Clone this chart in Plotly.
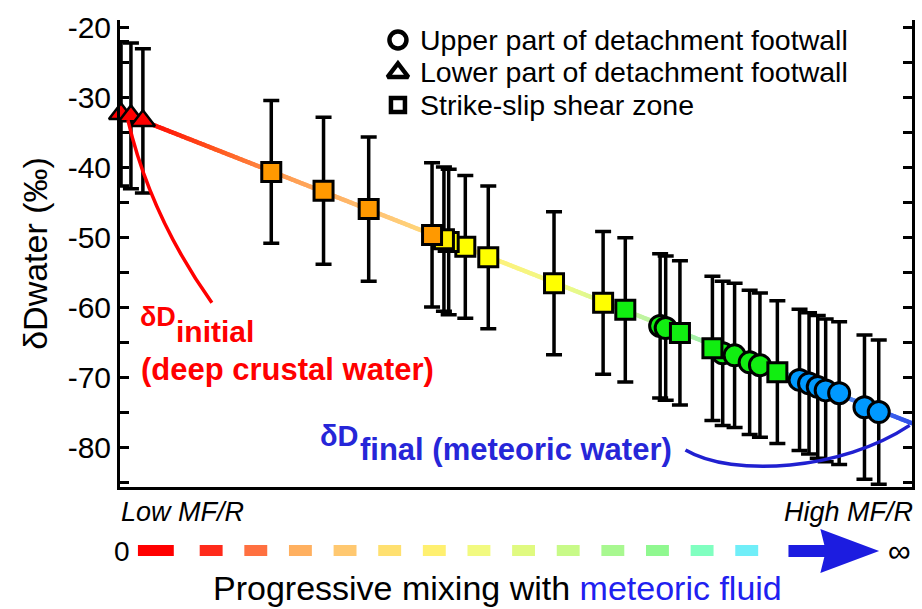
import plotly.graph_objects as go
import numpy as np

FONT = "Liberation Sans, Arial, sans-serif"

# ---- data (x = relative mixing position 0..100, y = deltaD water permil) ----
tri_x = [0.13, 1.38, 2.89]
tri_y = [-32.4, -32.7, -33.4]
tri_err = [10.3, 10.4, 10.3]

sq_x = [19.1, 25.7, 31.4, 39.4, 40.9, 41.5, 43.6, 46.5, 54.8, 61.0, 63.8, 70.7, 74.8, 83.0]
sq_y = [-40.7, -43.4, -46.0, -49.7, -50.3, -50.7, -51.4, -52.9, -56.6, -59.4, -60.4, -63.7, -65.9, -69.3]
sq_err = [10.2, 10.5, 10.3, 10.3, 10.3, 10.4, 10.2, 10.2, 10.2, 10.2, 10.3, 10.3, 10.3, 10.2]
sq_col = ["#ff9900", "#ff9900", "#ff9900", "#ff9900", "#ffee00", "#ffff00", "#ffff00",
          "#ffff00", "#ffff00", "#ffff00", "#11ee11", "#11ee11", "#11ee11", "#11ee11"]

ci_x = [68.2, 68.9, 76.1, 77.6, 79.5, 80.8, 85.8, 87.0, 88.1, 89.1, 90.8, 94.0, 95.8]
ci_y = [-62.7, -63.0, -66.6, -66.9, -67.9, -68.3, -70.4, -70.9, -71.4, -71.9, -72.3, -74.3, -75.0]
ci_err = [10.3, 10.3, 10.3, 10.3, 10.3, 10.3, 10.1, 10.1, 10.2, 10.2, 10.2, 10.3, 10.3]
ci_col = ["#11ee11"] * 6 + ["#0099ff"] * 7

# mixing line end members and colour stops along it
mix_x = [2.89, 100.0]
mix_y = [-33.4, -76.6]
mix_stops = [[0.0, "#ff0000"], [0.1, "#ff5a20"], [0.18, "#ff9a50"], [0.32, "#ffc878"],
             [0.45, "#fff07a"], [0.55, "#eefa88"], [0.65, "#c0f4a0"], [0.75, "#98eea8"],
             [0.82, "#80e8c8"], [0.88, "#60a8f0"], [0.95, "#4a70f0"], [1.0, "#3050e8"]]

# mixing colour key below the chart
key_colors = ["#ff0000", "#ff2a1a", "#ff7040", "#ffb060", "#ffc870", "#ffe070", "#fff070",
              "#f2fa80", "#e0fa80", "#c8fa88", "#a8f890", "#90f890", "#80ffc0", "#70eef8"]

legend_names = ["Upper part of detachment footwall", "Lower part of detachment footwall",
                "Strike-slip shear zone"]
legend_symbols = ["circle", "triangle-up", "square"]
legend_sizes = [17, 18, 14]

y_ticks = [-80, -70, -60, -50, -40, -30, -20]
y_ticktext = ["-80", "-70", "-60", "-50", "-40", "-30", "-20"]
Y_RANGE = [-85.7, -19]

fig = go.Figure()

# gradient mixing line
t = np.linspace(0, 1, 700)
lx = mix_x[0] + t * (mix_x[1] - mix_x[0])
ly = mix_y[0] + t * (mix_y[1] - mix_y[0])
fig.add_trace(go.Scatter(x=lx, y=ly, mode="markers", showlegend=False, hoverinfo="skip",
                         marker=dict(size=4.5, color=t, colorscale=mix_stops, cmin=0, cmax=1,
                                     line=dict(width=0))))

eb = dict(type="data", color="black", thickness=3.5, width=8)

fig.add_trace(go.Scatter(x=ci_x, y=ci_y, mode="markers", showlegend=False, cliponaxis=False,
                         error_y=dict(eb, array=ci_err),
                         marker=dict(symbol="circle", size=21, color=ci_col,
                                     line=dict(color="black", width=3))))
fig.add_trace(go.Scatter(x=sq_x[::-1], y=sq_y[::-1], mode="markers", showlegend=False,
                         cliponaxis=False, error_y=dict(eb, array=sq_err[::-1]),
                         marker=dict(symbol="square", size=19, color=sq_col[::-1],
                                     line=dict(color="black", width=3))))
fig.add_trace(go.Scatter(x=tri_x, y=tri_y, mode="markers", showlegend=False, cliponaxis=False,
                         error_y=dict(eb, array=tri_err),
                         marker=dict(symbol="triangle-up", size=21, color="#ff0000",
                                     line=dict(color="black", width=2.5))))

# pixel layout helpers
PL, PR, PT, PB = 120, 915, 20, 487
def px(x):
    return (x - PL) / (PR - PL)
def py(y):
    return (PB - y) / (PB - PT)

# manual legend (symbols on an overlay axis spanning the plot area)
leg_rows = [40, 72.5, 105]
fig.add_trace(go.Scatter(x=[px(399)] * 3, y=[py(r) for r in leg_rows], xaxis="x2", yaxis="y2",
                         mode="markers", showlegend=False, hoverinfo="skip", cliponaxis=False,
                         marker=dict(symbol=legend_symbols, size=legend_sizes, color="white",
                                     opacity=1, line=dict(color="#000000", width=4.5))))

# pointer curves
fig.add_shape(type="path", xref="x", yref="y",
              path="M 1.0,-33.3 Q 3.8,-46.9 11.6,-59.4",
              line=dict(color="#ff0000", width=3.5))
fig.add_shape(type="path", xref="x", yref="y",
              path="M 71.4,-80.4 C 77.4,-84.4 91.2,-83.3 99.7,-76.9",
              line=dict(color="#2020d0", width=3.5))

for i, c in enumerate(key_colors):
    if i == 0:
        x0, x1 = 138, 174
    else:
        x0 = 200 + (i - 1) * 44.8
        x1 = x0 + 23
    fig.add_shape(type="rect", xref="paper", yref="paper", x0=px(x0), x1=px(x1),
                  y0=py(556), y1=py(545), fillcolor=c, line=dict(width=0))
pts = [(791, 545), (827, 545), (823, 529), (882, 551), (823, 573), (827, 557), (791, 557)]
path = "M " + " L ".join(f"{px(a):.5f},{py(b):.5f}" for a, b in pts) + " Z"
fig.add_shape(type="path", xref="paper", yref="paper", path=path,
              fillcolor="#1c1ce0", line=dict(width=0))

ann = []
def A(text, x, y, size, color="black", xanchor="left", yanchor="middle"):
    ann.append(dict(text=text, x=px(x), y=py(y), xref="paper", yref="paper",
                    showarrow=False, xanchor=xanchor, yanchor=yanchor,
                    font=dict(family=FONT, size=size, color=color)))

for name, r in zip(legend_names, leg_rows):
    A(name, 419, r, 28.5)

A("<i>Low MF/R</i>", 119, 512, 27)
A("<i>High MF/R</i>", 918, 512, 27, xanchor="right")
A("0", 122, 551, 28, xanchor="center")
A("∞", 902, 551, 32, xanchor="center")
A("Progressive mixing with <span style='color:#2020f0'>meteoric fluid</span>", 499, 588, 34,
  xanchor="center")
A("<b>δD</b>", 138, 317, 27, color="#ff0000")
A("<b>initial</b>", 174, 332, 30, color="#ff0000")
A("<b>(deep crustal water)</b>", 139, 369, 31, color="#ff0000")
A("<b>δD</b>", 319, 436, 29, color="#2626d8")
A("<b>final (meteoric water)</b>", 359, 449, 31, color="#2626d8")

fig.update_layout(
    width=922, height=609,
    margin=dict(l=PL, r=922 - PR, t=PT, b=609 - PB),
    paper_bgcolor="white", plot_bgcolor="white",
    font=dict(family=FONT, color="black"),
    annotations=ann,
    showlegend=False,
    xaxis=dict(range=[0, 100], showline=True, linewidth=3, linecolor="black",
               showgrid=False, zeroline=False, showticklabels=False, ticks="",
               mirror=False),
    yaxis=dict(range=Y_RANGE, showline=True, linewidth=3, linecolor="black",
               showgrid=False, zeroline=False, mirror="ticks",
               tickvals=y_ticks, ticktext=y_ticktext,
               ticks="inside", ticklen=9, tickwidth=3, tickcolor="black",
               minor=dict(ticks="inside", ticklen=9, tickwidth=3, tickcolor="black",
                          tick0=-85, dtick=5),
               tickfont=dict(size=30, family=FONT),
               title=dict(text="δDwater (‰)", font=dict(size=34, family=FONT), standoff=10)),
    xaxis2=dict(overlaying="x", range=[0, 1], visible=False, anchor="y2"),
    yaxis2=dict(overlaying="y", range=[0, 1], visible=False, anchor="x2"),
)

fig.write_html("out.html")
